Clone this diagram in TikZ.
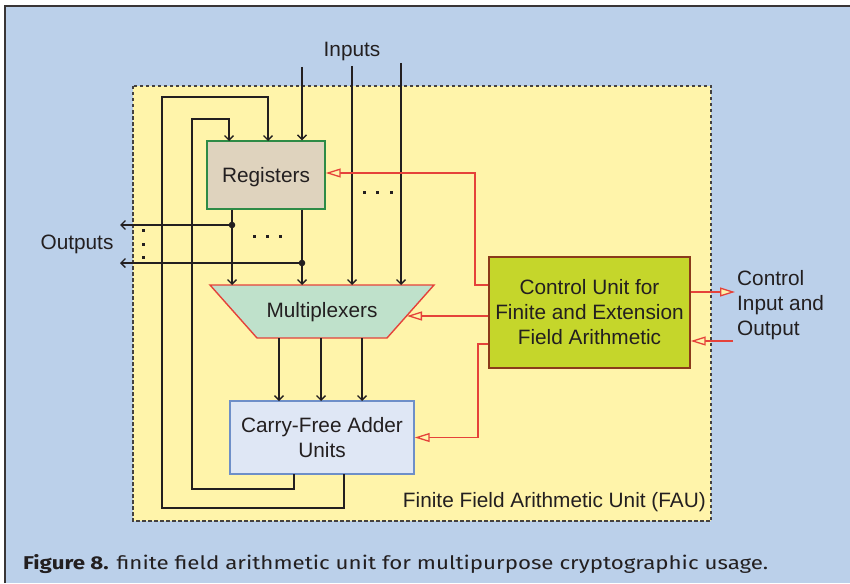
\documentclass[tikz,border=0pt]{standalone}
\usepackage{fontspec}
\setmainfont{Liberation Sans}
\newfontfamily\capfont{Fira Sans}
\usetikzlibrary{arrows.meta}
\definecolor{bgblue}{HTML}{BBD0EA}
\definecolor{fauyellow}{HTML}{FFF4AA}
\definecolor{regfill}{HTML}{DFD3BE}
\definecolor{reggreen}{HTML}{2E8B46}
\definecolor{muxfill}{HTML}{BFE1CB}
\definecolor{redline}{HTML}{E5423A}
\definecolor{ctrlfill}{HTML}{C5D62B}
\definecolor{ctrlborder}{HTML}{8B3A1A}
\definecolor{cfafill}{HTML}{DFE7F5}
\definecolor{cfaborder}{HTML}{6E8FC8}
\definecolor{ink}{HTML}{231F20}
\tikzset{
  x=1pt, y=-1pt,
  lbl/.style={font=\fontsize{20.8}{25}\selectfont, text=ink, inner sep=0pt, align=center},
  lbl1/.style={lbl, text depth=0pt},
  blk/.style={draw=ink, line width=1.4pt},
  barb/.style={blk, -{Straight Barb[length=4.5pt,width=9pt,line width=1.4pt]}},
  redarr/.style={draw=redline, line width=1.4pt, -{Triangle[open,length=15pt,width=9pt,fill=fauyellow,line width=1.3pt]}},
  dotsq/.style={fill=ink, minimum size=3pt, inner sep=0pt},
}
\begin{document}
\begin{tikzpicture}
\useasboundingbox (0,0) rectangle (850,583);
\fill[white] (0,0) rectangle (850,583);
\fill[bgblue] (5,6) rectangle (850,583);
\draw[ink!90, line width=1.6pt] (5,583) -- (5,6) -- (850,6);
% FAU box
\draw[fill=fauyellow, draw=ink!85, line width=1.2pt, dash pattern=on 3.5pt off 2.5pt] (133,86) rectangle (711,521);
% nodes
\node[lbl1, draw=reggreen, fill=regfill, line width=1.4pt, minimum width=118pt, minimum height=68pt] (regs) at (266,175) {Registers};
\node[lbl, draw=ctrlborder, fill=ctrlfill, line width=1.4pt, minimum width=201pt, minimum height=111pt] (ctrl) at (589.5,312.5) {Control Unit for\\Finite and Extension\\Field Arithmetic};
\node[lbl, draw=cfaborder, fill=cfafill, line width=1.4pt, minimum width=184pt, minimum height=73pt] (cfa) at (322,437.5) {Carry-Free Adder\\Units};
\draw[draw=redline, fill=muxfill, line width=1.4pt] (210,285) coordinate (mtl) -- (434,285) coordinate (mtr) -- (387,338) coordinate (mbr) -- (257,338) coordinate (mbl) -- cycle;
\node[lbl1] (mux) at (322,310) {Multiplexers};
\coordinate (muxin) at (407,316);
% labels
\node[lbl1] (inputs) at (352,49) {Inputs};
\node[lbl1] (outputs) at (77,242) {Outputs};
\node[lbl, text depth=0pt, align=left, anchor=west] (ctlio) at (737,303) {Control\\Input and\\Output};
\node[lbl1, anchor=east] (fau) at (706,500) {Finite Field Arithmetic Unit (FAU)};
% inputs
\coordinate (in1) at (302,67);
\coordinate (in2) at (352,66);
\coordinate (in3) at (401,63);
\draw[barb] (in1) -- (in1 |- regs.north);
\draw[barb] (in2) -- (in2 |- mtl);
\draw[barb] (in3) -- (in3 |- mtl);
% register outputs
\coordinate (o1) at (232,225);
\coordinate (o2) at (302,263);
\coordinate (oe1) at (120,225);
\coordinate (oe2) at (120,263);
\draw[barb] (o1 |- regs.south) -- (o1 |- mtl);
\draw[barb] (o2 |- regs.south) -- (o2 |- mtl);
\draw[barb] (o1) -- (oe1);
\draw[barb] (o2) -- (oe2);
\fill[ink] (o1) circle (3.3pt) (o2) circle (3.3pt);
% mux outputs
\foreach \xx in {279,321,362} \draw[barb] (\xx,338) -- (\xx,401);
% feedback loops
\draw[barb] (294,474) -- (294,489) -- (192,489) -- (192,119) -- (229,119) -- (229,141);
\draw[barb] (344,474) -- (344,508) -- (162,508) -- (162,97) -- (268,97) -- (268,141);
% dots
\foreach \p in {(364,192),(377,192),(391,192),(254,236),(267,236),(280,236),(143,230),(143,244),(143,257)}
  \node[dotsq] at \p {};
% control lines
\draw[redarr] (ctrl.west |- 0,285) -- (475,285) |- (regs.east |- 0,173);
\draw[redarr] (ctrl.west |- 0,316) -- (muxin);
\draw[redarr] (ctrl.west |- 0,344) -- (478,344) |- (cfa.east);
\draw[redarr] (ctrl.east |- 0,292) -- (735,292);
\draw[redarr] (733,341) -- (ctrl.east |- 0,341);
% caption
\node[anchor=base west, inner sep=0pt, text=ink] (cap) at (23,569) {\resizebox{745pt}{\height}{\capfont\fontsize{18.5}{21}\selectfont\textbf{Figure 8.} finite field arithmetic unit for multipurpose cryptographic usage.}};
\end{tikzpicture}
\end{document}
